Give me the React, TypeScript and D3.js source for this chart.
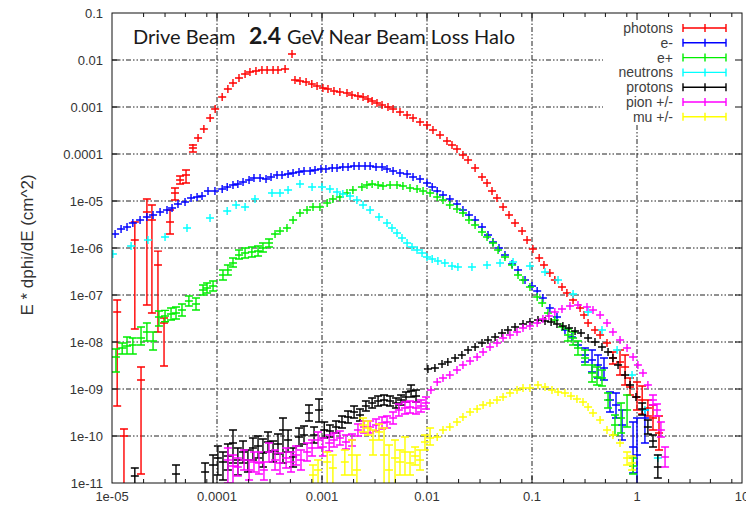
import React from 'react';
import * as d3 from 'd3';

// Each point: [energy (GeV), E*dphi/dE, optional low, optional high]
type Point = number[];

const photonPoints: Point[] = [
  [1.12e-5, 4.35e-8, 4.35e-10, 7.8e-8], [1.3e-5, 1.0e-10, 1e-12, 1.41e-10],
  [1.65e-5, 1.48e-6, 1.89e-8, 3.57e-6], [1.89e-5, 1.55e-9, 1.55e-11, 2.94e-9],
  [2.15e-5, 5.84e-6, 6.13e-8, 1.1e-5], [2.4e-5, 3.94e-6, 4.14e-8, 8.2e-6],
  [2.74e-5, 4.35e-7, 1.63e-8, 8.6e-7], [3.13e-5, 2.54e-8, 3.09e-9, 3.24e-8],
  [3.57e-5, 3.57e-6, 1.99e-6, 6.43e-6], [3.98e-5, 1.48e-5, 1.05e-5, 1.89e-5],
  [4.45e-5, 2.8e-5, 2.3e-5, 3.4e-5], [5.07e-5, 3.57e-5, 2.42e-5, 4.56e-5],
  [5.9e-5, 1.34e-4, 1.1e-4, 1.55e-4], [6.6e-5, 2.19e-4], [7.5e-5, 3.4e-4],
  [8.6e-5, 5.84e-4], [9.6e-5, 9.06e-4], [1.12e-4, 1.63e-3], [1.27e-4, 2.42e-3],
  [1.42e-4, 3.24e-3], [1.62e-4, 4.14e-3], [1.85e-4, 5.03e-3], [2.06e-4, 5.55e-3],
  [2.35e-4, 5.84e-3], [2.68e-4, 6.13e-3], [3.0e-4, 6.13e-3], [3.42e-4, 6.13e-3],
  [3.81e-4, 6.13e-3], [4.45e-4, 6.43e-3], [5.18e-4, 1.34e-2], [5.53e-4, 3.75e-3],
  [6.17e-4, 3.57e-3], [7.05e-4, 3.4e-3], [8.0e-4, 3.09e-3], [8.97e-4, 2.8e-3],
  [1.02e-3, 2.54e-3], [1.14e-3, 2.42e-3], [1.3e-3, 2.19e-3], [1.48e-3, 2.08e-3],
  [1.73e-3, 1.99e-3], [1.93e-3, 1.8e-3], [2.2e-3, 1.71e-3], [2.46e-3, 1.63e-3],
  [2.74e-3, 1.48e-3], [3.0e-3, 1.34e-3], [3.34e-3, 1.22e-3], [3.73e-3, 1.1e-3],
  [4.25e-3, 1.0e-3], [4.75e-3, 9.06e-4], [5.53e-3, 7.83e-4], [6.46e-3, 6.76e-4],
  [7.36e-3, 5.84e-4], [8.58e-3, 4.8e-4], [1.0e-2, 4.14e-4], [1.14e-2, 3.24e-4],
  [1.33e-2, 2.54e-4], [1.55e-2, 1.89e-4], [1.73e-2, 1.55e-4], [1.93e-2, 1.28e-4],
  [2.2e-2, 9.52e-5], [2.46e-2, 7.45e-5], [2.87e-2, 5.03e-5], [3.34e-2, 3.24e-5],
  [3.73e-2, 2.42e-5], [4.16e-2, 1.63e-5], [4.64e-2, 1.16e-5], [5.3e-2, 7.45e-6],
  [6.04e-2, 5.03e-6], [6.89e-2, 3.4e-6], [8.04e-2, 2.3e-6], [8.97e-2, 1.48e-6],
  [1.02e-1, 9.52e-7], [1.17e-1, 6.13e-7], [1.3e-1, 4.35e-7], [1.48e-1, 2.94e-7],
  [1.65e-1, 2.08e-7], [1.93e-1, 1.48e-7], [2.15e-1, 1.1e-7], [2.46e-1, 7.83e-8],
  [2.87e-1, 5.29e-8], [3.13e-1, 3.75e-8], [3.42e-1, 2.54e-8], [3.98e-1, 1.8e-8],
  [4.45e-1, 1.41e-8], [5.18e-1, 9.52e-9],
  [5.9e-1, 4.56e-9, 3.4e-9, 6.13e-9], [6.89e-1, 3.75e-9, 1.99e-9, 6.76e-9],
  [7.7e-1, 2.94e-9, 1.22e-9, 5.29e-9], [8.58e-1, 1.1e-9, 7.45e-10, 1.71e-9],
  [1.0, 6.76e-10, 3.57e-10, 1.41e-9], [1.12, 5.84e-10, 2.94e-10, 1.16e-9],
  [1.27, 3.94e-10, 2.66e-10, 5.84e-10], [1.42, 2.42e-10, 1.34e-10, 4.56e-10],
  [1.62, 1.16e-10, 5.03e-11, 2.66e-10],
];

const electronPoints: Point[] = [
  [1.07e-5, 1.99e-6], [1.22e-5, 2.54e-6], [1.39e-5, 2.8e-6], [1.58e-5, 3.4e-6],
  [1.85e-5, 3.94e-6], [2.15e-5, 4.56e-6], [2.46e-5, 5.03e-6], [2.87e-5, 5.84e-6],
  [3.34e-5, 6.43e-6], [3.73e-5, 7.1e-6], [4.25e-5, 8.63e-6], [4.96e-5, 9.52e-6],
  [5.66e-5, 1.16e-5], [6.46e-5, 1.22e-5], [7.2e-5, 1.28e-5], [8.21e-5, 1.63e-5],
  [9.56e-5, 1.63e-5], [1.12e-4, 1.8e-5], [1.25e-4, 1.99e-5], [1.42e-4, 2.19e-5],
  [1.58e-4, 2.3e-5], [1.77e-4, 2.54e-5], [2.02e-4, 2.8e-5], [2.25e-4, 3.09e-5],
  [2.57e-4, 3.09e-5], [2.93e-4, 2.94e-5], [3.27e-4, 3.24e-5], [3.73e-4, 3.57e-5],
  [4.16e-4, 3.57e-5], [4.75e-4, 3.75e-5], [5.3e-4, 3.94e-5], [6.04e-4, 4.14e-5],
  [6.74e-4, 4.35e-5], [7.7e-4, 4.35e-5], [8.58e-4, 4.56e-5], [9.78e-4, 4.8e-5],
  [1.09e-3, 4.8e-5], [1.25e-3, 5.03e-5], [1.39e-3, 5.03e-5], [1.58e-3, 5.29e-5],
  [1.77e-3, 5.29e-5], [2.02e-3, 5.55e-5], [2.25e-3, 5.55e-5], [2.57e-3, 5.55e-5],
  [2.87e-3, 5.55e-5], [3.27e-3, 5.29e-5], [3.73e-3, 5.29e-5], [4.16e-3, 4.8e-5],
  [4.75e-3, 4.35e-5], [5.53e-3, 3.94e-5], [6.46e-3, 3.75e-5], [7.36e-3, 3.24e-5],
  [8.58e-3, 2.94e-5], [1.0e-2, 2.42e-5], [1.12e-2, 1.99e-5], [1.25e-2, 1.63e-5],
  [1.42e-2, 1.34e-5], [1.65e-2, 1.1e-5], [1.93e-2, 8.63e-6], [2.2e-2, 6.43e-6],
  [2.51e-2, 5.03e-6], [2.87e-2, 3.94e-6], [3.34e-2, 2.8e-6], [3.81e-2, 1.89e-6],
  [4.25e-2, 1.34e-6], [4.85e-2, 1.0e-6], [5.53e-2, 7.1e-7], [6.46e-2, 4.56e-7],
  [7.36e-2, 3.4e-7], [8.58e-2, 2.08e-7], [1.0e-1, 1.55e-7], [1.12e-1, 1.22e-7],
  [1.27e-1, 8.63e-8], [1.48e-1, 5.29e-8], [1.73e-1, 3.4e-8], [2.06e-1, 1.8e-8],
  [2.4e-1, 1.28e-8], [2.74e-1, 8.63e-9],
  [3.2e-1, 5.29e-9, 3.75e-9, 7.45e-9], [3.73e-1, 4.14e-9, 2.3e-9, 6.76e-9],
  [4.25e-1, 3.24e-9, 1.71e-9, 5.29e-9], [4.85e-1, 2.8e-9, 1.55e-9, 4.56e-9],
  [5.53e-1, 5.84e-10, 3.24e-10, 8.63e-10], [6.31e-1, 4.56e-10, 2.42e-10, 8.22e-10],
  [7.2e-1, 1.71e-10, 8.22e-11, 3.57e-10], [9.17e-1, 5.84e-11, 1.63e-11, 1.99e-10],
  [1.0, 3.94e-11, 8e-12, 2.42e-10], [1.19, 2.42e-10, 7.1e-11, 3.57e-10],
];

const positronPoints: Point[] = [
  [1.09e-5, 4.8e-9, 2.3e-9, 7.1e-9], [1.25e-5, 7.45e-9, 5.55e-9, 9.52e-9],
  [1.39e-5, 8.22e-9, 5.55e-9, 1.28e-8], [1.58e-5, 8.63e-9, 5.55e-9, 1.22e-8],
  [1.89e-5, 1.22e-8, 8.63e-9, 2.08e-8], [2.15e-5, 1.63e-8, 1.05e-8, 2.54e-8],
  [2.46e-5, 1.05e-8, 6.76e-9, 1.63e-8], [2.8e-5, 3.4e-8, 2.19e-8, 4.56e-8],
  [3.2e-5, 3.57e-8, 2.7e-8, 4.7e-8], [3.65e-5, 3.94e-8, 2.94e-8, 5.29e-8],
  [4.07e-5, 4.14e-8, 3.09e-8, 5.55e-8], [4.64e-5, 4.8e-8, 3.57e-8, 6.43e-8],
  [5.4e-5, 7.45e-8, 5.84e-8, 9.52e-8], [6.31e-5, 6.43e-8, 4.8e-8, 8.63e-8],
  [7.36e-5, 1.28e-7, 1.0e-7, 1.63e-7], [8.04e-5, 1.41e-7, 1.1e-7, 1.8e-7],
  [9.17e-5, 1.55e-7, 1.22e-7, 1.99e-7], [1.14e-4, 2.66e-7, 2.08e-7, 3.4e-7],
  [1.27e-4, 3.4e-7, 2.66e-7, 4.35e-7], [1.42e-4, 4.8e-7, 3.94e-7, 6.13e-7],
  [1.62e-4, 7.1e-7, 5.84e-7, 9.06e-7], [1.85e-4, 7.83e-7, 6.13e-7, 1.0e-6],
  [2.15e-4, 8.22e-7, 6.43e-7, 1.05e-6], [2.46e-4, 8.63e-7, 6.76e-7, 1.1e-6],
  [2.74e-4, 1.0e-6, 8.22e-7, 1.28e-6], [3.13e-4, 1.28e-6, 1.05e-6, 1.55e-6],
  [3.57e-4, 1.99e-6], [3.98e-4, 2.3e-6], [4.64e-4, 2.66e-6], [5.3e-4, 3.94e-6],
  [6.17e-4, 5.55e-6], [7.2e-4, 6.43e-6], [8.21e-4, 7.45e-6], [9.56e-4, 7.45e-6],
  [1.12e-3, 9.06e-6], [1.27e-3, 1.1e-5], [1.48e-3, 1.22e-5], [1.73e-3, 1.48e-5],
  [1.97e-3, 1.71e-5], [2.4e-3, 1.99e-5], [2.68e-3, 2.19e-5], [3.0e-3, 2.3e-5],
  [3.42e-3, 2.19e-5], [3.81e-3, 2.08e-5], [4.45e-3, 2.19e-5], [5.18e-3, 2.19e-5],
  [5.9e-3, 2.08e-5], [6.89e-3, 1.89e-5], [8.04e-3, 1.8e-5], [9.17e-3, 1.63e-5],
  [1.07e-2, 1.48e-5], [1.25e-2, 1.22e-5], [1.42e-2, 1.05e-5], [1.65e-2, 8.22e-6],
  [1.93e-2, 6.76e-6], [2.2e-2, 5.55e-6], [2.51e-2, 3.94e-6], [2.87e-2, 3.09e-6],
  [3.34e-2, 2.19e-6], [3.73e-2, 1.71e-6], [4.25e-2, 1.28e-6], [4.75e-2, 9.06e-7],
  [5.53e-2, 6.43e-7], [6.46e-2, 4.35e-7], [7.36e-2, 2.66e-7], [8.21e-2, 2.08e-7],
  [9.56e-2, 1.48e-7], [1.12e-1, 9.06e-8], [1.25e-1, 6.76e-8], [1.42e-1, 4.14e-8],
  [1.65e-1, 2.94e-8], [1.93e-1, 2.08e-8],
  [2.2e-1, 1.41e-8, 1.05e-8, 1.89e-8], [2.46e-1, 1.22e-8, 8.63e-9, 1.63e-8],
  [2.74e-1, 7.45e-9, 5.29e-9, 1.05e-8], [3.2e-1, 4.56e-9, 3.24e-9, 6.76e-9],
  [3.73e-1, 2.19e-9, 1.41e-9, 3.24e-9], [4.16e-1, 1.8e-9, 1.22e-9, 2.94e-9],
  [4.64e-1, 1.71e-9, 1.16e-9, 2.54e-9], [5.3e-1, 5.84e-10, 3.94e-10, 8.22e-10],
  [6.17e-1, 1.71e-10, 1.05e-10, 2.8e-10], [7.05e-1, 2.42e-10, 1.16e-10, 5.03e-10],
  [8.04e-1, 3.57e-10, 1.55e-10, 7.45e-10], [9.17e-1, 2.3e-11, 1.55e-11, 3.4e-11],
];

const neutronPoints: Point[] = [
  [1.02e-5, 7.45e-7], [1.52e-5, 1.1e-6], [2.2e-5, 1.48e-6], [3.2e-5, 1.71e-6],
  [5.18e-5, 2.66e-6], [8.58e-5, 4.35e-6], [1.25e-4, 6.13e-6], [1.52e-4, 8.22e-6],
  [1.85e-4, 7.45e-6], [2.3e-4, 1.1e-5], [3.34e-4, 1.48e-5], [3.98e-4, 1.48e-5],
  [4.75e-4, 1.71e-5], [6.17e-4, 2.3e-5], [8.04e-4, 1.99e-5], [1.0e-3, 1.99e-5],
  [1.19e-3, 1.8e-5], [1.39e-3, 1.55e-5], [1.58e-3, 1.41e-5], [1.85e-3, 1.28e-5],
  [2.15e-3, 1.05e-5], [2.46e-3, 8.22e-6], [2.87e-3, 6.43e-6], [3.49e-3, 4.56e-6],
  [4.16e-3, 3.4e-6], [4.64e-3, 2.66e-6], [5.18e-3, 2.08e-6], [5.78e-3, 1.63e-6],
  [6.46e-3, 1.28e-6], [7.2e-3, 1.05e-6], [8.04e-3, 9.06e-7], [8.97e-3, 7.83e-7],
  [1.0e-2, 6.43e-7], [1.12e-2, 5.84e-7], [1.27e-2, 5.29e-7], [1.48e-2, 4.8e-7],
  [1.73e-2, 4.14e-7], [1.97e-2, 3.94e-7], [2.68e-2, 3.94e-7], [3.73e-2, 4.35e-7],
  [4.96e-2, 4.8e-7], [6.6e-2, 5.03e-7], [9.56e-2, 4.14e-7], [1.33e-1, 3.09e-7],
  [1.77e-1, 2.08e-7], [2.46e-1, 1.05e-7], [3.42e-1, 4.35e-8], [4.64e-1, 1.8e-8],
  [6.46e-1, 6.76e-9], [8.97e-1, 1.99e-9], [1.19, 3.57e-10], [1.58, 3.4e-11],
];

const protonPoints: Point[] = [
  [1.65e-5, 1.41e-11, 5e-12, 2.08e-11], [4.07e-5, 1.55e-11, 5e-12, 2.42e-11],
  [7.7e-5, 1.71e-11, 5e-12, 2.66e-11], [9.17e-5, 2.42e-11, 5e-12, 3.94e-11],
  [1.02e-4, 3.4e-11, 1.48e-11, 6.13e-11], [1.14e-4, 2.8e-11, 1.16e-11, 4.56e-11],
  [1.27e-4, 3.75e-11, 1.89e-11, 6.76e-11], [1.42e-4, 7.1e-11, 2.66e-11, 1.34e-10],
  [1.58e-4, 3.09e-11, 1.48e-11, 5.55e-11], [1.77e-4, 4.56e-11, 2.66e-11, 7.83e-11],
  [1.97e-4, 3.09e-11, 1.71e-11, 5.03e-11], [2.2e-4, 5.55e-11, 3.09e-11, 9.06e-11],
  [2.46e-4, 6.13e-11, 3.4e-11, 1.0e-10], [2.74e-4, 4.35e-11, 2.19e-11, 8.63e-11],
  [3.06e-4, 7.45e-11, 4.56e-11, 1.22e-10], [3.42e-4, 4.8e-11, 2.8e-11, 7.83e-11],
  [3.81e-4, 6.76e-11, 4.14e-11, 1.1e-10], [4.25e-4, 1.34e-10, 2.66e-11, 2.42e-10],
  [4.75e-4, 8.22e-11, 4.56e-11, 1.34e-10], [5.3e-4, 3.57e-11, 2.19e-11, 5.55e-11],
  [6.04e-4, 9.52e-11, 6.13e-11, 1.48e-10], [6.74e-4, 1.05e-10, 6.76e-11, 1.63e-10],
  [7.52e-4, 3.09e-10, 2.08e-10, 4.56e-10], [8.4e-4, 1.05e-10, 7.1e-11, 1.55e-10],
  [9.37e-4, 3.57e-10, 1.99e-10, 6.13e-10], [1.05e-3, 1.34e-10, 9.06e-11, 1.99e-10],
  [1.19e-3, 1.28e-10, 9.52e-11, 1.71e-10], [1.36e-3, 1.55e-10, 1.16e-10, 2.08e-10],
  [1.55e-3, 1.99e-10, 1.48e-10, 2.66e-10], [1.77e-3, 2.54e-10, 1.89e-10, 3.4e-10],
  [2.02e-3, 3.24e-10, 2.42e-10, 4.35e-10], [2.3e-3, 2.8e-10, 2.08e-10, 3.75e-10],
  [2.62e-3, 4.35e-10, 3.4e-10, 5.55e-10], [3.0e-3, 5.03e-10, 3.94e-10, 6.43e-10],
  [3.42e-3, 5.55e-10, 4.35e-10, 7.1e-10], [3.9e-3, 5.84e-10, 4.56e-10, 7.45e-10],
  [4.45e-3, 5.55e-10, 4.35e-10, 7.1e-10], [5.07e-3, 5.03e-10, 3.94e-10, 6.43e-10],
  [5.66e-3, 5.84e-10, 4.56e-10, 7.45e-10], [6.31e-3, 6.76e-10, 5.29e-10, 8.63e-10],
  [7.05e-3, 9.06e-10, 6.76e-10, 1.22e-9], [7.86e-3, 7.1e-10, 5.29e-10, 9.52e-10],
  [1.02e-2, 2.66e-9], [1.19e-2, 2.8e-9], [1.39e-2, 3.4e-9], [1.58e-2, 3.75e-9],
  [1.85e-2, 4.56e-9], [2.15e-2, 5.29e-9], [2.46e-2, 6.76e-9], [2.87e-2, 7.83e-9],
  [3.34e-2, 9.52e-9], [3.81e-2, 1.1e-8], [4.45e-2, 1.28e-8], [5.18e-2, 1.55e-8],
  [5.9e-2, 1.8e-8], [6.89e-2, 2.08e-8], [8.21e-2, 2.42e-8], [9.56e-2, 2.66e-8],
  [1.14e-1, 2.94e-8], [1.33e-1, 2.8e-8], [1.52e-1, 2.66e-8], [1.73e-1, 2.42e-8],
  [1.97e-1, 2.19e-8], [2.25e-1, 1.99e-8], [2.57e-1, 1.71e-8], [2.93e-1, 1.55e-8],
  [3.42e-1, 1.22e-8], [3.98e-1, 1.0e-8], [4.64e-1, 7.83e-9], [5.3e-1, 6.13e-9],
  [5.9e-1, 4.56e-9], [6.6e-1, 3.24e-9], [7.7e-1, 1.99e-9], [8.58e-1, 1.22e-9],
  [9.78e-1, 6.76e-10], [1.12, 3.75e-10, 2.8e-10, 5.03e-10],
  [1.27, 1.55e-10, 1.1e-10, 2.19e-10], [1.42, 7.83e-11, 5.84e-11, 1.05e-10],
  [1.58, 2.19e-11, 1.28e-11, 3.94e-11],
];

const pionPoints: Point[] = [
  [1.27e-4, 3.09e-11, 1.0e-11, 5.55e-11], [1.42e-4, 2.3e-11, 8e-12, 3.94e-11],
  [1.58e-4, 2.19e-11, 1.41e-11, 3.4e-11], [1.81e-4, 3.09e-11, 1.89e-11, 5.03e-11],
  [2.02e-4, 1.89e-11, 1.16e-11, 3.09e-11], [2.25e-4, 2.8e-11, 1.71e-11, 4.56e-11],
  [2.51e-4, 2.66e-11, 1.55e-11, 4.56e-11], [2.8e-4, 1.89e-11, 1.16e-11, 2.8e-11],
  [3.13e-4, 4.56e-11, 2.8e-11, 7.1e-11], [3.57e-4, 3.09e-11, 1.89e-11, 5.03e-11],
  [3.98e-4, 2.66e-11, 1.55e-11, 4.35e-11], [4.55e-4, 3.4e-11, 2.08e-11, 5.55e-11],
  [5.07e-4, 2.8e-11, 1.71e-11, 4.56e-11], [5.66e-4, 3.94e-11, 2.42e-11, 6.13e-11],
  [6.31e-4, 3.09e-11, 1.89e-11, 5.03e-11], [7.2e-4, 4.56e-11, 2.94e-11, 7.1e-11],
  [8.04e-4, 5.55e-11, 3.75e-11, 8.22e-11], [9.17e-4, 8.22e-11, 5.55e-11, 1.22e-10],
  [1.02e-3, 5.84e-11, 3.75e-11, 9.06e-11], [1.17e-3, 7.1e-11, 4.8e-11, 1.05e-10],
  [1.3e-3, 8.22e-11, 5.84e-11, 1.16e-10], [1.48e-3, 9.06e-11, 6.43e-11, 1.28e-10],
  [1.69e-3, 7.45e-11, 5.29e-11, 1.05e-10], [1.93e-3, 8.22e-11, 6.13e-11, 1.1e-10],
  [2.2e-3, 1.34e-10, 1.0e-10, 1.8e-10], [2.51e-3, 1.55e-10, 1.16e-10, 2.08e-10],
  [2.87e-3, 1.55e-10, 1.16e-10, 2.08e-10], [3.27e-3, 1.71e-10, 1.28e-10, 2.3e-10],
  [3.73e-3, 1.89e-10, 1.41e-10, 2.54e-10], [4.16e-3, 1.99e-10, 1.48e-10, 2.66e-10],
  [4.75e-3, 2.42e-10, 1.8e-10, 3.24e-10], [5.4e-3, 3.57e-10, 2.66e-10, 4.8e-10],
  [6.17e-3, 3.94e-10, 2.94e-10, 5.29e-10], [6.89e-3, 4.14e-10, 3.09e-10, 5.55e-10],
  [7.86e-3, 3.94e-10, 2.94e-10, 5.29e-10], [8.77e-3, 4.35e-10, 3.24e-10, 5.84e-10],
  [9.78e-3, 5.03e-10, 3.75e-10, 6.76e-10],
  [1.09e-2, 9.52e-10], [1.25e-2, 1.41e-9], [1.42e-2, 1.71e-9], [1.65e-2, 1.99e-9],
  [1.93e-2, 2.54e-9], [2.2e-2, 3.24e-9], [2.57e-2, 3.94e-9], [3.0e-2, 4.8e-9],
  [3.42e-2, 6.13e-9], [3.98e-2, 7.83e-9], [4.64e-2, 9.52e-9], [5.3e-2, 1.22e-8],
  [6.17e-2, 1.41e-8], [7.2e-2, 1.63e-8], [8.21e-2, 1.99e-8], [9.56e-2, 2.19e-8],
  [1.12e-1, 2.54e-8], [1.27e-1, 3.09e-8], [1.45e-1, 3.57e-8], [1.65e-1, 4.35e-8],
  [1.93e-1, 5.03e-8], [2.3e-1, 5.84e-8], [2.74e-1, 6.13e-8], [3.34e-1, 5.55e-8],
  [3.81e-1, 4.8e-8], [4.45e-1, 3.75e-8], [5.18e-1, 2.54e-8], [5.9e-1, 1.63e-8],
  [6.89e-1, 1.1e-8], [8.04e-1, 7.45e-9], [9.17e-1, 4.8e-9], [1.02, 3.24e-9],
  [1.14, 2.19e-9], [1.27, 1.22e-9],
  [1.42, 5.84e-10, 4.56e-10, 7.45e-10], [1.55, 3.57e-10, 2.66e-10, 4.8e-10],
  [1.69, 1.34e-10, 9.52e-11, 1.99e-10], [1.85, 3.57e-11, 2.19e-11, 5.84e-11],
];

const muonPoints: Point[] = [
  [8.21e-4, 1.48e-11, 5e-12, 2.42e-11], [9.17e-4, 1.89e-11, 5e-12, 3.09e-11],
  [1.12e-3, 2.8e-11, 5e-12, 4.56e-11], [1.27e-3, 2.08e-11, 5e-12, 3.94e-11],
  [1.65e-3, 2.8e-11, 1.48e-11, 5.03e-11], [1.93e-3, 3.94e-11, 1.48e-11, 8.22e-11],
  [2.15e-3, 1.89e-11, 5e-12, 3.94e-11], [2.46e-3, 1.71e-10, 1.22e-10, 2.42e-10],
  [2.74e-3, 1.48e-10, 1.05e-10, 2.08e-10], [3.06e-3, 8.22e-11, 3.94e-11, 1.34e-10],
  [3.49e-3, 1.22e-10, 8.22e-11, 1.8e-10], [3.9e-3, 3.94e-11, 5e-12, 1.48e-10],
  [4.35e-3, 1.89e-11, 5e-12, 6.43e-11], [4.96e-3, 3.4e-11, 5e-12, 8.22e-11],
  [5.53e-3, 2.8e-11, 1.48e-11, 5.03e-11], [6.17e-3, 4.56e-11, 1.48e-11, 9.52e-11],
  [6.89e-3, 2.66e-11, 1.48e-11, 4.56e-11], [7.7e-3, 3.75e-11, 2.42e-11, 5.84e-11],
  [8.58e-3, 3.09e-11, 1.89e-11, 5.03e-11], [9.56e-3, 7.45e-11, 5.03e-11, 1.05e-10],
  [1.07e-2, 9.06e-11, 6.43e-11, 1.48e-10], [1.25e-2, 9.52e-11], [1.42e-2, 1.34e-10],
  [1.65e-2, 1.55e-10], [1.93e-2, 1.99e-10], [2.2e-2, 2.54e-10], [2.57e-2, 3.24e-10],
  [3.0e-2, 3.75e-10], [3.42e-2, 4.56e-10], [3.98e-2, 5.03e-10], [4.64e-2, 5.84e-10],
  [5.3e-2, 6.76e-10], [6.17e-2, 8.22e-10], [7.2e-2, 9.52e-10], [8.21e-2, 1.05e-9],
  [9.56e-2, 1.05e-9], [1.14e-1, 1.22e-9], [1.33e-1, 1.1e-9], [1.55e-1, 9.52e-10],
  [1.77e-1, 8.63e-10], [2.06e-1, 8.22e-10], [2.35e-1, 7.1e-10], [2.68e-1, 6.13e-10],
  [3.06e-1, 5.29e-10], [3.42e-1, 4.14e-10], [3.81e-1, 3.09e-10], [4.45e-1, 2.19e-10],
  [5.18e-1, 1.34e-10], [5.9e-1, 1.05e-10], [6.89e-1, 7.1e-11],
  [8.04e-1, 3.4e-11, 2.42e-11, 4.56e-11], [8.97e-1, 2.66e-11, 1.89e-11, 3.75e-11],
];

const seriesPoints: Point[][] = [
  photonPoints, electronPoints, positronPoints, neutronPoints,
  protonPoints, pionPoints, muonPoints,
];
const seriesNames = ['photons', 'e-', 'e+', 'neutrons', 'protons', 'pion +/-', 'mu +/-'];
const seriesColors = ['#ff0000', '#0000ff', '#00ee00', '#00ffff', '#000000', '#ff00ff', '#ffff00'];

const xTickValues = [1e-5, 1e-4, 1e-3, 1e-2, 1e-1, 1, 10];
const xTickLabels = ['1e-05', '0.0001', '0.001', '0.01', '0.1', '1', '10'];
const yTickValues = [0.1, 0.01, 1e-3, 1e-4, 1e-5, 1e-6, 1e-7, 1e-8, 1e-9, 1e-10, 1e-11];
const yTickLabels = ['0.1', '0.01', '0.001', '0.0001', '1e-05', '1e-06', '1e-07', '1e-08', '1e-09', '1e-10', '1e-11'];
const minorSteps = [2, 3.2, 5, 8];

const WIDTH = 746;
const HEIGHT = 505;
const LEFT = 112;
const RIGHT = 742;
const TOP = 13;
const BOTTOM = 483;

const x = d3.scaleLog().domain([1e-5, 10]).range([LEFT, RIGHT]);
const y = d3.scaleLog().domain([1e-11, 0.1]).range([BOTTOM, TOP]);

const HALF = 4;
const GRID_DASH = '5,2,1.5,2,1.5,2';
const LABEL_FONT = "'Liberation Sans', Arial, sans-serif";
const TITLE_FONT = "Lato, 'Open Sans', sans-serif";

function seriesPath(points: Point[]): string {
  const p = d3.path();
  for (const pt of points) {
    const cx = x(pt[0]);
    const cy = y(pt[1]);
    p.moveTo(cx - HALF, cy);
    p.lineTo(cx + HALF, cy);
    p.moveTo(cx, cy - HALF);
    p.lineTo(cx, cy + HALF);
    if (pt.length === 4) {
      const yLo = y(pt[2]);
      const yHi = y(pt[3]);
      p.moveTo(cx, yHi);
      p.lineTo(cx, yLo);
      p.moveTo(cx - HALF, yHi);
      p.lineTo(cx + HALF, yHi);
      p.moveTo(cx - HALF, yLo);
      p.lineTo(cx + HALF, yLo);
    }
  }
  return p.toString();
}

export default function App() {
  const minorX: number[] = [];
  for (let i = 0; i < xTickValues.length - 1; i++) {
    for (const m of minorSteps) minorX.push(xTickValues[i] * m);
  }
  const legendRowY = (i: number) => 28 + i * 14.8;

  return (
    <svg
      width={WIDTH}
      height={HEIGHT}
      style={{ position: 'absolute', left: 0, top: 0, background: '#fff' }}
    >
      <defs>
        <clipPath id="plot-area">
          <rect x={LEFT} y={TOP} width={RIGHT - LEFT} height={BOTTOM - TOP} />
        </clipPath>
      </defs>
      <rect x={0} y={0} width={WIDTH} height={HEIGHT} fill="#fff" />

      {/* title */}
      <g fill="#1a1a1a" fontFamily={TITLE_FONT}>
        <text x={133} y={44} fontSize={20}>Drive Beam</text>
        <text x={249} y={44} fontSize={23} fontWeight="bold">2.4</text>
        <text x={287} y={44} fontSize={20}>GeV Near Beam Loss Halo</text>
      </g>

      {/* grid */}
      <g stroke="#222" strokeWidth={1} strokeDasharray={GRID_DASH} fill="none">
        {xTickValues.slice(1, -1).map((v) => (
          <line key={'gx' + v} x1={x(v)} x2={x(v)} y1={TOP} y2={BOTTOM} />
        ))}
        {yTickValues.slice(1, -1).map((v) => (
          <line key={'gy' + v} x1={LEFT} x2={RIGHT} y1={y(v)} y2={y(v)} />
        ))}
      </g>

      {/* data */}
      <g clipPath="url(#plot-area)" fill="none" strokeWidth={1.4}>
        {seriesPoints.map((pts, i) => (
          <path key={seriesNames[i]} d={seriesPath(pts)} stroke={seriesColors[i]} />
        ))}
      </g>

      {/* key */}
      <rect x={603} y={TOP + 1} width={RIGHT - 604} height={110} fill="#fff" />
      <g fontFamily={LABEL_FONT} fontSize={14} fill="#404040">
        {seriesNames.map((name, i) => {
          const ly = legendRowY(i);
          return (
            <g key={'key' + name}>
              <text x={673} y={ly} dy="0.35em" textAnchor="end">{name}</text>
              <path
                d={`M683,${ly}H726M683,${ly - HALF}V${ly + HALF}M705,${ly - HALF}V${ly + HALF}M726,${ly - HALF}V${ly + HALF}`}
                stroke={seriesColors[i]}
                strokeWidth={1.4}
                fill="none"
              />
            </g>
          );
        })}
      </g>

      {/* frame and ticks */}
      <g stroke="#111" strokeWidth={1} fill="none">
        <rect x={LEFT} y={TOP} width={RIGHT - LEFT} height={BOTTOM - TOP} />
        {xTickValues.slice(1, -1).map((v) => (
          <g key={'tx' + v}>
            <line x1={x(v)} x2={x(v)} y1={BOTTOM} y2={BOTTOM - 7} />
            <line x1={x(v)} x2={x(v)} y1={TOP} y2={TOP + 7} />
          </g>
        ))}
        {minorX.map((v) => (
          <g key={'mx' + v}>
            <line x1={x(v)} x2={x(v)} y1={BOTTOM} y2={BOTTOM - 4} />
            <line x1={x(v)} x2={x(v)} y1={TOP} y2={TOP + 4} />
          </g>
        ))}
        {yTickValues.slice(1, -1).map((v) => (
          <g key={'ty' + v}>
            <line x1={LEFT} x2={LEFT + 7} y1={y(v)} y2={y(v)} />
            <line x1={RIGHT} x2={RIGHT - 7} y1={y(v)} y2={y(v)} />
          </g>
        ))}
      </g>

      {/* tick labels */}
      <g fontFamily={LABEL_FONT} fontSize={13} fill="#333">
        {xTickValues.map((v, i) => (
          <text key={'lx' + v} x={x(v)} y={501} textAnchor="middle">{xTickLabels[i]}</text>
        ))}
        {yTickValues.map((v, i) => (
          <text key={'ly' + v} x={103} y={y(v)} dy="0.35em" textAnchor="end">{yTickLabels[i]}</text>
        ))}
      </g>

      <text
        transform={`translate(33,${245}) rotate(-90)`}
        textAnchor="middle"
        fontFamily={LABEL_FONT}
        fontSize={17}
        fill="#333"
      >
        E * dphi/dE (cm^2)
      </text>
    </svg>
  );
}
